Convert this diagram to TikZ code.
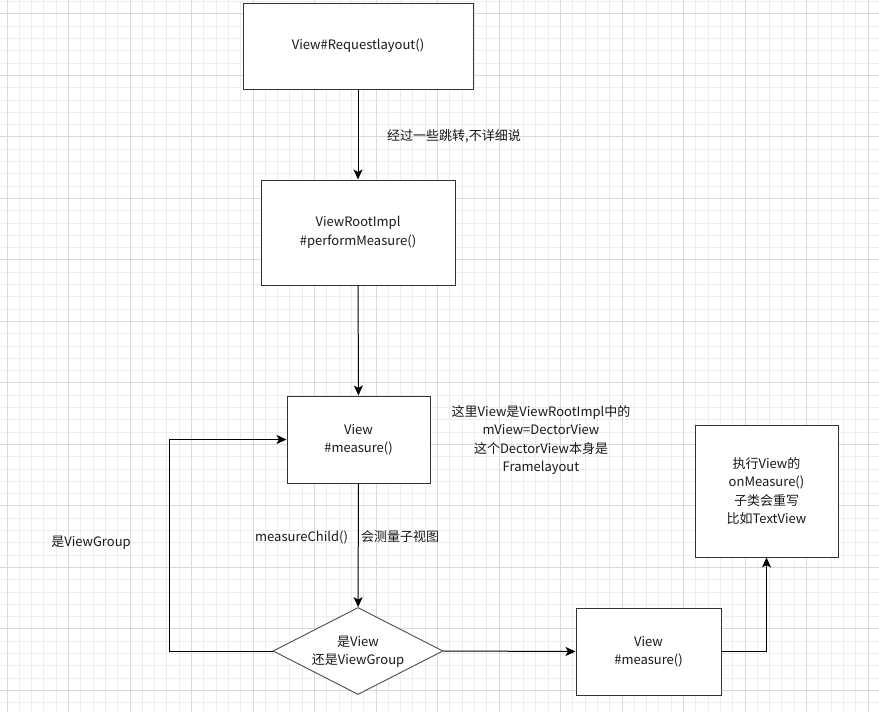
\documentclass[tikz,border=0pt]{standalone}
\usepackage{fontspec}
\setmainfont{Noto Sans CJK SC}
\usetikzlibrary{arrows.meta,shapes.geometric}
\begin{document}
\begin{tikzpicture}[x=1pt,y=-1pt,
  every node/.style={font=\fontsize{13}{18.5}\selectfont, text=black!90},
  box/.style={draw=black!80, line width=1pt, fill=white, align=center, inner sep=0pt},
  dia/.style={draw=black!70, line width=0.9pt, fill=white, shape=diamond, inner sep=0pt},
  arr/.style={draw=black, line width=1pt, -{Stealth[length=10pt,width=9pt,inset=2.5pt]}},
  minorgrid/.style={draw=black!7, line width=0.8pt},
  majorgrid/.style={draw=black!15, line width=0.8pt},
  lbl/.style={align=center, inner sep=0pt}]
\useasboundingbox (0,0) rectangle (879,712);
\fill[white] (0,0) rectangle (879,712);
% grid
\foreach \i in {0,...,71} \draw[minorgrid] ({6.9+12.3*\i},0) -- ++(0,712);
\foreach \j in {0,...,57} \draw[minorgrid] (0,{1.5+12.3*\j}) -- ++(879,0);
\foreach \i in {0,...,14} \draw[majorgrid] ({6.9+61.5*\i},0) -- ++(0,712);
\foreach \j in {0,...,11} \draw[majorgrid] (0,{13.8+61.5*\j}) -- ++(879,0);
% nodes
\node[box, minimum width=230, minimum height=86] (n1) at (358,46) {View\#Requestlayout()};
\node[box, minimum width=194, minimum height=105] (n2) at (358,232.5) {ViewRootImpl\\\#performMeasure()};
\node[box, minimum width=143, minimum height=87] (n3) at (358.5,439.5) {View\\\#measure()};
\node[dia, minimum width=170, minimum height=87] (d) at (358,651) {};
\node[lbl] (dt) at (358,652) {是View\\还是ViewGroup};
\node[box, minimum width=145, minimum height=87] (n4) at (648.5,651.5) {View\\\#measure()};
\node[box, minimum width=143, minimum height=132] (n5) at (766.5,491) {执行View的\\onMeasure()\\子类会重写\\比如TextView};
% labels
\node[lbl] (l1) at (454,136) {经过一些跳转,不详细说};
\node[lbl, anchor=west] (l2) at (255,537) {measureChild()};
\node[lbl, anchor=west] (l3) at (361,537) {会测量子视图};
\node[lbl] (l4) at (541,440) {这里View是ViewRootImpl中的\\mView=DectorView\\这个DectorView本身是\\Framelayout};
\node[lbl] (l5) at (91,543) {是ViewGroup};
% connectors
\draw[arr] (n1) -- (n2);
\draw[arr] (n2) -- (n3);
\draw[arr] (n3) -- (d);
\draw[arr] (d.west) -- ++(-103,0) |- (n3.west);
\draw[arr] (d.east) -- (n4.west);
\draw[arr] (n4.east) -| (n5.south);
\end{tikzpicture}
\end{document}
